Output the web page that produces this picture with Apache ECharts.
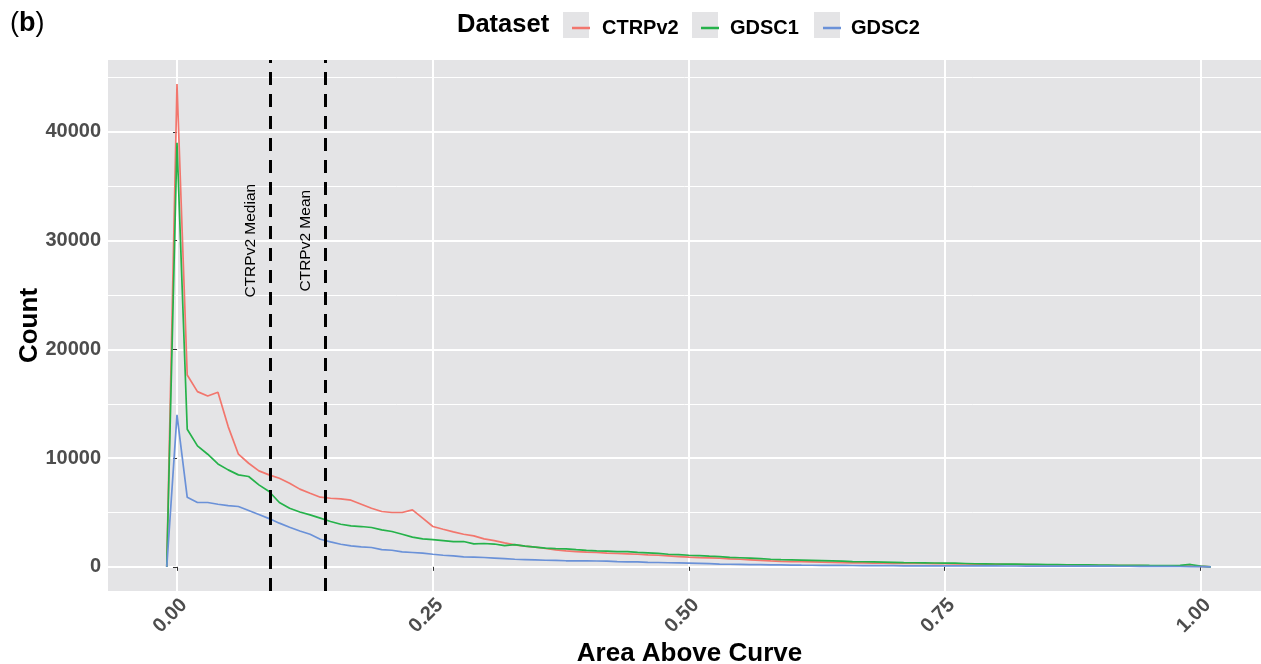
<!DOCTYPE html>
<html>
<head>
<meta charset="utf-8">
<script src="https://cdn.jsdelivr.net/npm/echarts@6/dist/echarts.min.js"></script>
<style>
html, body { margin: 0; padding: 0; background: #fff; }
#main { width: 1261px; height: 664px; }
</style>
</head>
<body>
<div id="main"></div>
<script>
// bin positions (Area Above Curve), binwidth 0.01
var aac = [-0.01, 0.00, 0.01, 0.02, 0.03, 0.04, 0.05, 0.06, 0.07, 0.08,
    0.09, 0.10, 0.11, 0.12, 0.13, 0.14, 0.15, 0.16, 0.17, 0.18,
    0.19, 0.20, 0.21, 0.22, 0.23, 0.24, 0.25, 0.26, 0.27, 0.28,
    0.29, 0.30, 0.31, 0.32, 0.33, 0.34, 0.35, 0.36, 0.37, 0.38,
    0.39, 0.40, 0.41, 0.42, 0.43, 0.44, 0.45, 0.46, 0.47, 0.48,
    0.49, 0.50, 0.51, 0.52, 0.53, 0.54, 0.55, 0.56, 0.57, 0.58,
    0.59, 0.60, 0.61, 0.62, 0.63, 0.64, 0.65, 0.66, 0.67, 0.68,
    0.69, 0.70, 0.71, 0.72, 0.73, 0.74, 0.75, 0.76, 0.77, 0.78,
    0.79, 0.80, 0.81, 0.82, 0.83, 0.84, 0.85, 0.86, 0.87, 0.88,
    0.89, 0.90, 0.91, 0.92, 0.93, 0.94, 0.95, 0.96, 0.97, 0.98,
    0.99, 1.00, 1.01];

var ctrpv2 = [0, 44400, 17650, 16120, 15720, 16060, 12900, 10360, 9530, 8830,
    8460, 8150, 7700, 7150, 6770, 6410, 6310, 6250, 6130, 5760,
    5390, 5090, 5000, 5000, 5240, 4480, 3710, 3460, 3220, 3000,
    2850, 2580, 2420, 2210, 2020, 1900, 1810, 1690, 1560, 1470,
    1410, 1350, 1320, 1260, 1230, 1200, 1160, 1100, 1070, 1010,
    950, 890, 850, 820, 790, 740, 700, 650, 600, 550,
    510, 490, 470, 450, 430, 410, 390, 370, 360, 350,
    340, 330, 320, 315, 310, 300, 290, 280, 265, 250,
    240, 230, 220, 210, 200, 190, 180, 170, 160, 150,
    140, 130, 125, 120, 110, 105, 100, 90, 80, 70,
    60, 40, 0];

var gdsc1 = [0, 39000, 12660, 11130, 10360, 9470, 8920, 8460, 8310, 7540,
    6930, 5920, 5390, 5050, 4780, 4480, 4170, 3920, 3770, 3710,
    3620, 3400, 3250, 3000, 2730, 2570, 2510, 2420, 2330, 2330,
    2120, 2150, 2100, 1950, 2050, 1900, 1820, 1730, 1680, 1660,
    1580, 1520, 1470, 1440, 1410, 1410, 1330, 1290, 1240, 1160,
    1120, 1070, 1030, 980, 940, 880, 840, 800, 750, 700,
    660, 640, 620, 600, 580, 550, 520, 490, 470, 450,
    430, 410, 390, 380, 370, 355, 345, 335, 310, 285,
    275, 265, 255, 245, 235, 225, 215, 205, 195, 185,
    175, 165, 160, 150, 145, 140, 130, 125, 120, 140,
    220, 60, 0];

var gdsc2 = [0, 13980, 6400, 5920, 5920, 5760, 5640, 5550, 5180, 4810,
    4440, 4020, 3650, 3300, 3000, 2540, 2300, 2080, 1930, 1840,
    1780, 1590, 1530, 1380, 1320, 1260, 1160, 1070, 1010, 920,
    890, 860, 810, 760, 700, 670, 640, 610, 590, 560,
    550, 550, 540, 520, 480, 460, 450, 420, 400, 380,
    360, 340, 320, 290, 250, 240, 230, 210, 200, 190,
    180, 165, 155, 150, 140, 135, 130, 125, 120, 115,
    110, 105, 100, 98, 95, 92, 90, 90, 88, 86,
    84, 82, 80, 78, 76, 74, 72, 70, 68, 66,
    64, 62, 60, 58, 56, 54, 50, 45, 40, 35,
    30, 20, 0];

var datasetNames = ['CTRPv2', 'GDSC1', 'GDSC2'];
var datasetColors = ['#F2766D', '#25B24A', '#6A91D8'];

var xTicks = [0, 0.25, 0.5, 0.75, 1];
var yTicks = [0, 10000, 20000, 30000, 40000];
var yMinor = [5000, 15000, 25000, 35000, 45000];

// reference lines and their labels
var vlineX = [0.0909, 0.1446];
var annotX = [0.0723, 0.1260];
var annotY = 30000;
var annotText = ['CTRPv2 Median', 'CTRPv2 Mean'];

var FONT = '"Liberation Sans", Arial, Helvetica, sans-serif';
var PANEL = '#E4E4E6';

var chart = echarts.init(document.getElementById('main'));

function pairs(ys) {
    return aac.map(function (x, i) { return [x, ys[i]]; });
}

// legend keys sit at fixed spots, one legend per dataset
var legendX = [567, 696, 818];
var legendPad = [7, 6, 5];
var keyBoxX = [563, 692, 814];

var legends = datasetNames.map(function (n, i) {
    return {
        data: [n],
        left: legendX[i],
        top: 13,
        icon: 'rect',
        itemWidth: 18,
        itemHeight: 2.5,
        selectedMode: false,
        formatter: '{p|{name}}',
        textStyle: {
            color: '#000', fontSize: 20, fontWeight: 'bold', fontFamily: FONT,
            rich: { p: { padding: [0, 0, 0, legendPad[i]], color: '#000', fontSize: 20, fontWeight: 'bold', fontFamily: FONT } }
        }
    };
});

var graphics = keyBoxX.map(function (x) {
    return { type: 'rect', z: 0, shape: { x: x, y: 12, width: 26, height: 26 }, style: { fill: PANEL } };
});
graphics.push({
    type: 'text', x: 10, y: 24, z: 5,
    style: {
        text: '{n|(}{b|b}{n|)}', verticalAlign: 'middle',
        rich: {
            n: { fontSize: 27, fontFamily: FONT, fill: '#000' },
            b: { fontSize: 27, fontWeight: 'bold', fontFamily: FONT, fill: '#000' }
        }
    }
});
graphics.push({
    type: 'text', x: 457, y: 25, z: 5,
    style: { text: 'Dataset', fontSize: 25.5, fontWeight: 'bold', fontFamily: FONT, fill: '#000', verticalAlign: 'middle' }
});

var series = datasetNames.map(function (n, i) {
    return {
        name: n,
        type: 'line',
        data: pairs([ctrpv2, gdsc1, gdsc2][i]),
        showSymbol: false,
        color: datasetColors[i],
        lineStyle: { width: 1.7, color: datasetColors[i] },
        z: 2 + i
    };
});
// dashed reference lines + rotated labels on top
series[2].markLine = {
    silent: true,
    precision: 4,
    symbol: ['none', 'none'],
    label: { show: false },
    lineStyle: { color: '#000', width: 3, type: [13, 9] },
    data: vlineX.map(function (v) { return { xAxis: v }; })
};
series[2].markPoint = {
    silent: true,
    symbol: 'circle',
    symbolSize: 1,
    itemStyle: { color: 'rgba(0,0,0,0)' },
    label: { show: true, position: 'inside', formatter: '{b}', rotate: 90, color: '#000', fontSize: 15.5, fontFamily: FONT },
    data: annotText.map(function (t, i) { return { name: t, coord: [annotX[i], annotY] }; })
};

var option = {
    animation: false,
    backgroundColor: '#fff',
    grid: {
        left: 108, right: 0, top: 60, bottom: 73,
        show: true, backgroundColor: PANEL, borderWidth: 0,
        outerBoundsMode: 'none'
    },
    legend: legends,
    graphic: graphics,
    xAxis: {
        type: 'value',
        min: -0.0674,
        max: 1.059,
        axisLine: { show: false },
        axisTick: { show: true, length: 4, customValues: xTicks, lineStyle: { color: '#333', width: 1 } },
        axisLabel: {
            customValues: xTicks, rotate: 45, margin: 4, verticalAlign: 'top',
            formatter: function (v) { return v.toFixed(2); },
            color: '#4D4D4D', fontWeight: 'bold', fontSize: 20, fontFamily: FONT
        },
        splitLine: { show: true, lineStyle: { color: '#fff', width: 2 } },
        name: 'Area Above Curve',
        nameLocation: 'middle',
        nameGap: 50,
        nameMoveOverlap: false,
        nameTextStyle: { color: '#000', fontSize: 26, fontWeight: 'bold', fontFamily: FONT, padding: [0, 0, 0, 10] }
    },
    yAxis: [{
        type: 'value',
        min: -2220,
        max: 46620,
        axisLine: { show: false },
        axisTick: { show: true, length: 4, customValues: yTicks, lineStyle: { color: '#333', width: 1 } },
        axisLabel: {
            customValues: yTicks, margin: 7,
            formatter: function (v) { return String(v); },
            color: '#4D4D4D', fontWeight: 'bold', fontSize: 20, fontFamily: FONT
        },
        splitLine: { show: true, lineStyle: { color: '#fff', width: 2 } },
        name: 'Count',
        nameLocation: 'middle',
        nameGap: 65,
        nameMoveOverlap: false,
        nameTextStyle: { color: '#000', fontSize: 26, fontWeight: 'bold', fontFamily: FONT }
    }, {
        type: 'value',
        min: -2220,
        max: 46620,
        position: 'left',
        axisLine: { show: false },
        axisTick: { show: false, customValues: yMinor },
        axisLabel: { show: false },
        splitLine: { show: true, lineStyle: { color: '#fff', width: 1 } }
    }],
    series: series
};
chart.setOption(option);
</script>
</body>
</html>
